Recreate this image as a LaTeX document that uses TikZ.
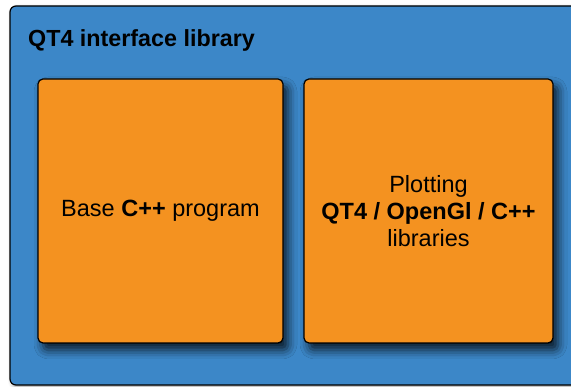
\documentclass[tikz,border=0pt]{standalone}
\usepackage{fontspec}
\setmainfont{Liberation Sans}
\usetikzlibrary{positioning}
\usetikzlibrary{shadows.blur}
\definecolor{qtblue}{RGB}{60,135,200}
\definecolor{qtorange}{RGB}{244,146,32}
\tikzstyle{every block} = [draw=black, line width=1.2pt]
\tikzstyle{panel} = [every block, rounded corners=6pt, fill=qtblue,
  blur shadow={shadow xshift=2pt, shadow yshift=-2pt, shadow blur radius=4pt, shadow opacity=40}]
\tikzstyle{block} = [every block, rounded corners=5pt, fill=qtorange, align=center,
  minimum height=264pt, font=\fontsize{23.5}{27}\selectfont,
  blur shadow={shadow xshift=5pt, shadow yshift=-7pt, shadow blur radius=9pt, shadow opacity=80}]

\begin{document}
\begin{tikzpicture}[x=1pt, y=1pt]
                    \useasboundingbox (0,0) rectangle (571,387);
                    \clip (0,0) rectangle (571,387);
                    \node[panel, minimum width=590pt, minimum height=379pt] (iface) at (305,191.5) {};
                    \node[anchor=base west, inner sep=0pt, font=\bfseries\fontsize{23.3}{28}\selectfont] (title) at (28,340) {QT4 interface library};

                    \node[block, minimum width=245pt] (base) at (160.5,176) {Base \textbf{C++} program};
                    \node[block, minimum width=249pt] (plot) at (428.5,176)
                        {Plotting\\ \textbf{QT4 / OpenGl / C++}\\ libraries};
                \end{tikzpicture}
\end{document}
